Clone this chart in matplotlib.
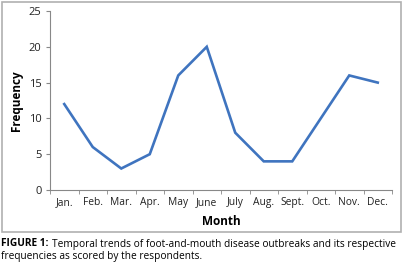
import numpy as np
import matplotlib.pyplot as plt
from matplotlib.patches import Rectangle

months = ['Jan.', 'Feb.', 'Mar.', 'Apr.', 'May', 'June', 'July', 'Aug.', 'Sept.', 'Oct.', 'Nov.', 'Dec.']
frequency = [12, 6, 3, 5, 16, 20, 8, 4, 4, 10, 16, 15]
y_ticks = [0, 5, 10, 15, 20, 25]

plt.rcParams['font.family'] = ['Open Sans', 'DejaVu Sans']

fig = plt.figure(figsize=(4.03, 2.65), dpi=100)
# frame round the chart
fig.patches.append(Rectangle((2 / 403, 33 / 265), 399 / 403, 230 / 265, transform=fig.transFigure,
                             fill=False, edgecolor='#b0b0b0', linewidth=1.2))

ax = fig.add_axes([50 / 403, 75 / 265, 342 / 403, 179 / 265])
x = np.arange(len(months))
ax.plot(x, frequency, color='#3f74bf', linewidth=1.9, solid_joinstyle='miter')

ax.set_xlim(-0.5, len(months) - 0.5)
ax.set_ylim(0, 25)
ax.set_yticks(y_ticks)
ax.set_xticks(x)
ax.set_xticklabels(months, fontsize=7.4, color='#222222')
ax.set_xticks(np.arange(len(months) + 1) - 0.5, minor=True)
ax.tick_params(axis='x', which='major', length=0, pad=5)
ax.tick_params(axis='x', which='minor', length=3, color='#888888', direction='out')
ax.tick_params(axis='y', length=3, color='#888888', labelsize=8, labelcolor='#222222', pad=3)

for s in ['top', 'right']:
    ax.spines[s].set_visible(False)
for s in ['left', 'bottom']:
    ax.spines[s].set_color('#888888')
    ax.spines[s].set_linewidth(0.8)

ax.set_ylabel('Frequency', fontsize=8.5, fontweight='bold', labelpad=4)
ax.set_xlabel('Month', fontsize=8.5, fontweight='bold', labelpad=5)

cap_y = 1 - 244 / 265
t1 = fig.text(1 / 403, cap_y, 'FIGURE 1:', fontsize=7.3, fontweight='bold', va='center', ha='left')
fig.canvas.draw()
bb = t1.get_window_extent()
fig.text((bb.x1 + 4) / 403, cap_y, 'Temporal trends of foot-and-mouth disease outbreaks and its respective',
         fontsize=7.3, va='center', ha='left')
fig.text(1 / 403, 1 - 257 / 265, 'frequencies as scored by the respondents.', fontsize=7.3, va='center', ha='left')

fig.savefig('out.png', dpi=100)
